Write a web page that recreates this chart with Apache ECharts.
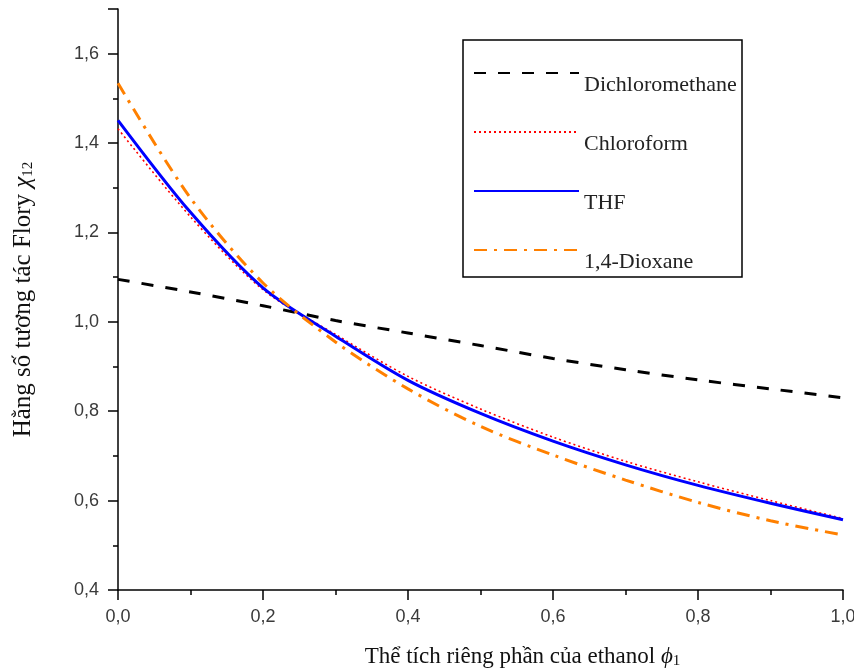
<!DOCTYPE html>
<html>
<head>
<meta charset="utf-8">
<script src="https://cdn.jsdelivr.net/npm/echarts@6/dist/echarts.min.js"></script>
<style>
  html, body { margin: 0; padding: 0; background: #fff; }
  #main { width: 854px; height: 672px; }
</style>
</head>
<body>
<div id="main"></div>
<script>
// volume fraction of ethanol
const phi = [0, 0.1, 0.2, 0.3, 0.4, 0.5, 0.6, 0.7, 0.8, 0.9, 1.0];

// Flory interaction parameter chi12
const dichloromethane = [1.095, 1.067, 1.036, 1.003, 0.975, 0.947, 0.918, 0.893, 0.870, 0.850, 0.830];
const chloroform      = [1.432, 1.235, 1.072, 0.972, 0.878, 0.805, 0.742, 0.688, 0.642, 0.600, 0.560];
const thf             = [1.451, 1.245, 1.076, 0.968, 0.869, 0.795, 0.733, 0.680, 0.634, 0.594, 0.557];
const dioxane         = [1.534, 1.277, 1.087, 0.955, 0.850, 0.766, 0.702, 0.646, 0.596, 0.555, 0.523];

const seriesNames = ['Dichloromethane', 'Chloroform', 'THF', '1,4-Dioxane'];

const serif = "'Liberation Serif', 'DejaVu Serif', serif";
const sans = "'Liberation Sans', Arial, sans-serif";

function pairs(ys) {
  return phi.map((x, i) => [x, ys[i]]);
}

function comma(v) {
  return v.toFixed(1).replace('.', ',');
}

const chart = echarts.init(document.getElementById('main'));

const option = {
  backgroundColor: '#fff',
  animation: false,
  grid: { left: 118, right: 11, top: 9, bottom: 82, outerBoundsMode: 'none' },
  legend: {
    left: 473,
    top: 49,
    orient: 'vertical',
    padding: 0,
    itemWidth: 105,
    itemHeight: 14,
    itemGap: 11,
    selectedMode: false,
    data: seriesNames,
    itemStyle: { opacity: 0, color: 'transparent', borderWidth: 0 },
    formatter: function (name) { return '\n' + name; },
    textStyle: {
      fontFamily: serif,
      fontSize: 22,
      color: '#222',
      lineHeight: 24
    }
  },
  graphic: [
    {
      type: 'rect',
      shape: { x: 463, y: 40, width: 279, height: 237 },
      style: { fill: 'none', stroke: '#000', lineWidth: 1.5 }
    }
  ],
  xAxis: {
    type: 'value',
    min: 0,
    max: 1,
    interval: 0.2,
    name: 'Thể tích riêng phần của ethanol {i|ϕ}{s|1}',
    nameLocation: 'middle',
    nameGap: 55,
    nameTextStyle: {
      fontFamily: serif,
      fontSize: 23,
      lineHeight: 24,
      color: '#111',
      padding: [0, 0, 0, 84],
      rich: {
        i: { fontFamily: serif, fontSize: 23, lineHeight: 24, fontStyle: 'italic', color: '#111' },
        s: { fontFamily: serif, fontSize: 15, lineHeight: 15, padding: [12, 0, 0, 0], verticalAlign: 'bottom', color: '#111' }
      }
    },
    axisLine: { lineStyle: { color: '#000', width: 1.5 } },
    axisTick: { inside: false, length: 10, lineStyle: { color: '#000', width: 1.5 } },
    minorTick: { show: true, splitNumber: 2, length: 5, lineStyle: { color: '#000', width: 1.5 } },
    splitLine: { show: false },
    axisLabel: {
      margin: 18,
      fontFamily: sans,
      fontSize: 18,
      color: '#3a3a3a',
      formatter: comma
    }
  },
  yAxis: {
    type: 'value',
    min: 0.4,
    max: 1.7,
    interval: 0.2,
    name: 'Hằng số tương tác Flory {i|χ}{s|12}',
    nameLocation: 'middle',
    nameRotate: 90,
    nameGap: 82,
    nameTextStyle: {
      fontFamily: serif,
      fontSize: 25,
      lineHeight: 26,
      color: '#111',
      rich: {
        i: { fontFamily: serif, fontSize: 25, lineHeight: 26, fontStyle: 'italic', color: '#111' },
        s: { fontFamily: serif, fontSize: 15, lineHeight: 15, padding: [12, 0, 0, 0], verticalAlign: 'bottom', color: '#111' }
      }
    },
    axisLine: { show: true, lineStyle: { color: '#000', width: 1.5 } },
    axisTick: { show: true, inside: false, length: 10, lineStyle: { color: '#000', width: 1.5 } },
    minorTick: { show: true, splitNumber: 2, length: 5, lineStyle: { color: '#000', width: 1.5 } },
    splitLine: { show: false },
    axisLabel: {
      margin: 19,
      fontFamily: sans,
      fontSize: 18,
      color: '#3a3a3a',
      showMaxLabel: false,
      formatter: function (v) {
        return Math.abs(v * 5 - Math.round(v * 5)) < 1e-6 ? comma(v) : '';
      }
    }
  },
  series: [
    {
      name: 'Dichloromethane',
      type: 'line',
      smooth: 0.3,
      symbol: 'none',
      data: pairs(dichloromethane),
      lineStyle: { color: '#000', width: 3, type: [12, 12] },
      itemStyle: { color: '#000' }
    },
    {
      name: 'Chloroform',
      type: 'line',
      smooth: 0.3,
      symbol: 'none',
      data: pairs(chloroform),
      lineStyle: { color: '#ff0000', width: 1.6, type: [2, 3] },
      itemStyle: { color: '#ff0000' }
    },
    {
      name: 'THF',
      type: 'line',
      smooth: 0.3,
      symbol: 'none',
      data: pairs(thf),
      lineStyle: { color: '#0000ff', width: 3 },
      itemStyle: { color: '#0000ff' }
    },
    {
      name: '1,4-Dioxane',
      type: 'line',
      smooth: 0.3,
      symbol: 'none',
      data: pairs(dioxane),
      lineStyle: { color: '#ff8000', width: 3, type: [13, 7, 3, 7] },
      itemStyle: { color: '#ff8000' }
    }
  ]
};

chart.setOption(option);
</script>
</body>
</html>
